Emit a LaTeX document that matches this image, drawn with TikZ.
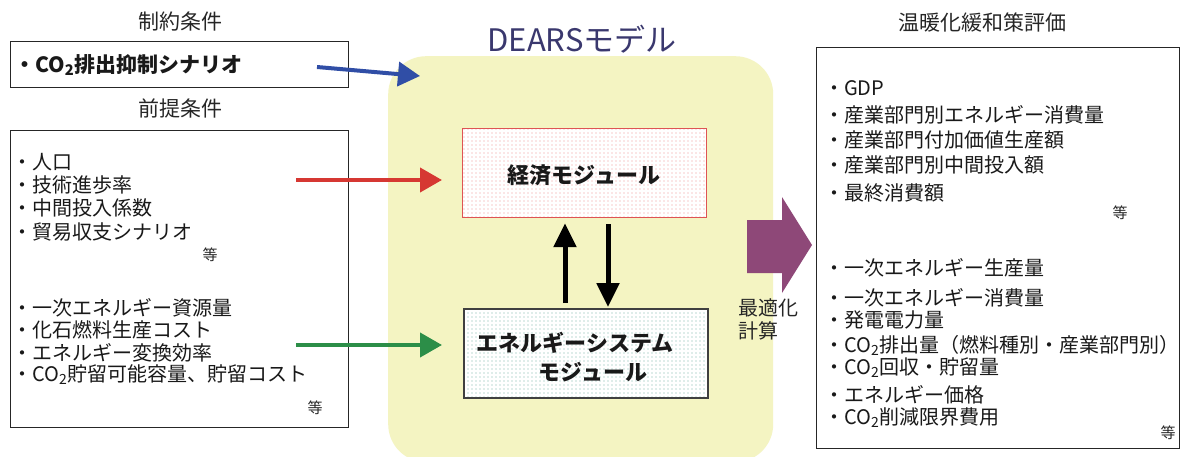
\documentclass[tikz,border=0pt]{standalone}
\usepackage{fontspec}
\setmainfont{Noto Sans CJK JP}
\usetikzlibrary{arrows.meta,patterns.meta,calc}
\definecolor{ybg}{RGB}{244,244,194}
\definecolor{dears}{RGB}{58,56,110}
\definecolor{redarr}{RGB}{214,56,50}
\definecolor{greenarr}{RGB}{44,142,72}
\definecolor{bluearr}{RGB}{48,78,166}
\definecolor{purparr}{RGB}{142,72,120}
\definecolor{econbd}{RGB}{222,84,84}
\definecolor{econdot}{RGB}{240,150,150}
\definecolor{enedot}{RGB}{120,178,168}
\tikzdeclarepattern{
  name=pdots,
  type=uncolored,
  bottom left={(-1pt,-1pt)},
  top right={(1pt,1pt)},
  tile size={(4pt,4pt)},
  code={\fill (0pt,0pt) circle (0.55pt);}
}
\begin{document}
\begin{tikzpicture}[x=1pt,y=-1pt,
  title/.style={inner sep=0pt, font=\fontsize{21}{21}\selectfont, text=black!85},
  item/.style={anchor=west, inner sep=0pt, font=\fontsize{20}{20}\selectfont, text=black!90},
  etc/.style={inner sep=0pt, font=\fontsize{15}{15}\selectfont, text=black!85},
  frame/.style={draw=black!85, line width=1.2pt, inner sep=0pt, anchor=north west},
  modtext/.style={inner sep=0pt, font=\fontsize{22}{22}\selectfont\bfseries, text=black!90},
  colarrow/.style={line width=4pt, -{Triangle[length=22pt,width=24pt]}},
  blkarrow/.style={line width=5pt, black, -{Triangle[length=24pt,width=22pt]}}
]
\useasboundingbox (0,0) rectangle (1182,457);
\fill[white] (0,0) rectangle (1182,457);

% ---- central model area
\node[fill=ybg, rounded corners=38pt, minimum width=385pt, minimum height=406pt,
      inner sep=0pt, anchor=north west] (model) at (388,56) {};
\node[inner sep=0pt, font=\fontsize{31}{31}\selectfont, text=dears] (dtitle) at (582,39) {DEARSモデル};

\node[draw=econbd, line width=1.2pt, preaction={fill=white}, pattern={pdots}, pattern color=econdot,
      minimum width=244pt, minimum height=89pt, inner sep=0pt, anchor=north west] (econ) at (462,128) {};
\node[modtext] (econt) at (584,175) {経済モジュール};

\node[draw=black!75, line width=1.5pt, preaction={fill=white}, pattern={pdots}, pattern color=enedot,
      minimum width=244pt, minimum height=89pt, inner sep=0pt, anchor=north west] (energy) at (463,308) {};
\node[modtext] (enet1) at (575,343) {エネルギーシステム};
\node[modtext] (enet2) at (593,372) {モジュール};

\coordinate (upx) at (565,0);
\coordinate (dnx) at (608,0);
\draw[blkarrow, shorten <=5pt, shorten >=5pt] (energy.north -| upx) -- (econ.south -| upx);
\draw[blkarrow, shorten <=6pt, shorten >=1pt] (econ.south -| dnx) -- (energy.north -| dnx);

\node[inner sep=0pt, anchor=north west, align=left, font=\fontsize{20}{23}\selectfont, text=black!85]
  (opt) at (738,298) {最適化\\計算};

% ---- constraint box
\node[title] (ctitle) at (180,22) {制約条件};
\node[frame, minimum width=338pt, minimum height=46pt] (cbox) at (10,41) {};
\node[item, font=\fontsize{21}{21}\selectfont\bfseries] (citem) at (14,65) {・CO\textsubscript{2}排出抑制シナリオ};

% ---- premise box
\node[title] (ptitle) at (180,108) {前提条件};
\node[frame, minimum width=338pt, minimum height=297pt] (pbox) at (10,130) {};
\foreach \t/\y [count=\i] in {・人口/162, ・技術進歩率/185, ・中間投入係数/208, ・貿易収支シナリオ/232,
   ・一次エネルギー資源量/308, ・化石燃料生産コスト/330, ・エネルギー変換効率/353,
   ・CO\textsubscript{2}貯留可能容量、貯留コスト/375}
  \node[item] (p\i) at (12,\y) {\t};
\node[etc] (petc1) at (210,255) {等};
\node[etc] (petc2) at (315,408) {等};

% ---- evaluation box
\node[title] (etitle) at (982,23) {温暖化緩和策評価};
\node[frame, minimum width=363pt, minimum height=401pt] (ebox) at (816,47) {};
\foreach \t/\y [count=\i] in {・GDP/88, ・産業部門別エネルギー消費量/115, ・産業部門付加価値生産額/140,
   ・産業部門別中間投入額/165, ・最終消費額/193,
   ・一次エネルギー生産量/268, ・一次エネルギー消費量/298, ・発電電力量/320,
   ・CO\textsubscript{2}排出量（燃料種別・産業部門別）/345, ・CO\textsubscript{2}回収・貯留量/368,
   ・エネルギー価格/395, ・CO\textsubscript{2}削減限界費用/418}
  \node[item] (e\i) at (824,\y) {\t};
\node[etc] (eetc1) at (1120,213) {等};
\node[etc] (eetc2) at (1168,433) {等};

% ---- arrows
\coordinate (bstart) at (317,67);
\coordinate (bend) at (420,76);
\draw[colarrow, bluearr] (bstart) -- (bend);
\coordinate (rstart) at (296,180);
\draw[colarrow, redarr, shorten >=20pt] (rstart) -- (rstart -| econ.west);
\coordinate (gstart) at (296,345);
\draw[colarrow, greenarr, shorten >=21pt] (gstart) -- (gstart -| energy.west);

\fill[purparr] (747,220) -- (782,220) -- (782,197) -- (812,245) -- (782,293) -- (782,273) -- (747,273) -- cycle;
\end{tikzpicture}
\end{document}
